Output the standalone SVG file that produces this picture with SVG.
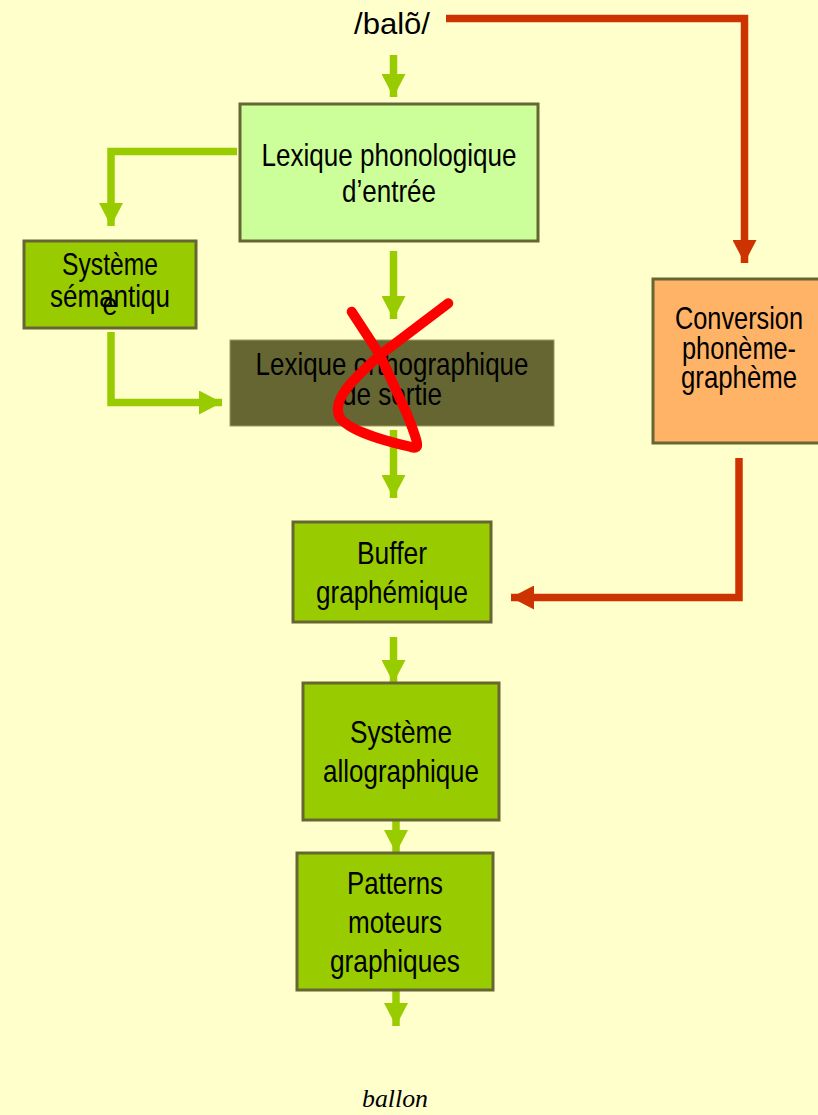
<svg xmlns="http://www.w3.org/2000/svg" width="818" height="1115" viewBox="0 0 818 1115">
<style>
.t{font-family:"Liberation Sans",Arial,sans-serif;font-size:30.5px;fill:#000;text-anchor:middle}
.box{stroke:#666633;stroke-width:3}
.g{fill:none;stroke:#99CC00;stroke-width:7.5}
.r{fill:none;stroke:#CC3300;stroke-width:7.5}
</style>
<defs>
<marker id="ga" markerUnits="userSpaceOnUse" markerWidth="23" markerHeight="24" viewBox="0 0 23 24" refX="23" refY="12" orient="auto"><path d="M0,0 L23,12 L0,24 z" fill="#99CC00"/></marker>
<marker id="ra" markerUnits="userSpaceOnUse" markerWidth="23" markerHeight="24" viewBox="0 0 23 24" refX="23" refY="12" orient="auto"><path d="M0,0 L23,12 L0,24 z" fill="#CC3300"/></marker>
</defs>
<rect width="818" height="1115" fill="#FFFFCC"/>
<g id="connectors">
<path class="g" d="M393.5,55 V97" marker-end="url(#ga)"/>
<path class="g" d="M237,151.5 H111 V226" marker-end="url(#ga)"/>
<path class="g" d="M393.5,251 V319" marker-end="url(#ga)"/>
<path class="g" d="M111,332 V402.5 H222" marker-end="url(#ga)"/>
<path class="g" d="M393.5,430 V498" marker-end="url(#ga)"/>
<path class="g" d="M393.5,637 V683" marker-end="url(#ga)"/>
<path class="g" d="M396,821 V853" marker-end="url(#ga)"/>
<path class="g" d="M396,991 V1026" marker-end="url(#ga)"/>
<path class="r" d="M446,18.5 H744.5 V263" marker-end="url(#ra)"/>
<path class="r" d="M739,458 V597.5 H511" marker-end="url(#ra)"/>
</g>
<g id="input"><text x="392" y="34" font-family="Liberation Sans,Arial,sans-serif" font-size="30" text-anchor="middle" textLength="76" lengthAdjust="spacingAndGlyphs">/balõ/</text></g>
<g id="lexphon">
<rect class="box" x="240" y="104" width="298" height="137" fill="#CCFF99"/>
<text class="t" x="389" y="166" textLength="255" lengthAdjust="spacingAndGlyphs">Lexique phonologique</text>
<text class="t" x="389" y="202" textLength="94" lengthAdjust="spacingAndGlyphs">d’entrée</text>
</g>
<g id="semantique">
<rect class="box" x="24" y="241" width="172" height="87" fill="#99CC00"/>
<text class="t" x="110" y="275" textLength="96" lengthAdjust="spacingAndGlyphs">Système</text>
<text class="t" x="110" y="307" textLength="120" lengthAdjust="spacingAndGlyphs">sémantiqu</text>
<text class="t" x="110" y="315" textLength="15" lengthAdjust="spacingAndGlyphs">e</text>
</g>
<g id="lexortho">
<rect x="230" y="340" width="324" height="86" fill="#666633" stroke="#99995C" stroke-width="1"/>
<text class="t" x="392" y="375" textLength="273" lengthAdjust="spacingAndGlyphs">Lexique orthographique</text>
<text class="t" x="392" y="405" textLength="100" lengthAdjust="spacingAndGlyphs">de sortie</text>
</g>
<g id="cross">
<path d="M351.7,311.7 L380,355 L406.7,413.3 C420,446.7 420,450 410,446.7 C380,440 341,428 338.3,413.3 C335,398 350,382 380,355 L448.3,303.3" fill="none" stroke="#FF0000" stroke-width="10" stroke-linecap="round" stroke-linejoin="round"/>
</g>
<g id="conversion">
<rect class="box" x="653" y="279" width="170" height="164" fill="#FFB366"/>
<text class="t" x="739" y="329" textLength="128" lengthAdjust="spacingAndGlyphs">Conversion</text>
<text class="t" x="739" y="359" textLength="114" lengthAdjust="spacingAndGlyphs">phonème-</text>
<text class="t" x="739" y="388" textLength="116" lengthAdjust="spacingAndGlyphs">graphème</text>
</g>
<g id="buffer">
<rect class="box" x="293" y="522" width="198" height="100" fill="#99CC00"/>
<text class="t" x="392" y="564" textLength="70" lengthAdjust="spacingAndGlyphs">Buffer</text>
<text class="t" x="392" y="603" textLength="152" lengthAdjust="spacingAndGlyphs">graphémique</text>
</g>
<g id="allographique">
<rect class="box" x="303" y="683" width="196" height="137" fill="#99CC00"/>
<text class="t" x="401" y="743" textLength="102" lengthAdjust="spacingAndGlyphs">Système</text>
<text class="t" x="401" y="782" textLength="156" lengthAdjust="spacingAndGlyphs">allographique</text>
</g>
<g id="patterns">
<rect class="box" x="297" y="853" width="196" height="137" fill="#99CC00"/>
<text class="t" x="395" y="894" textLength="96" lengthAdjust="spacingAndGlyphs">Patterns</text>
<text class="t" x="395" y="933" textLength="94" lengthAdjust="spacingAndGlyphs">moteurs</text>
<text class="t" x="395" y="972" textLength="130" lengthAdjust="spacingAndGlyphs">graphiques</text>
</g>
<g id="output"><text x="395" y="1107" font-family="Liberation Serif,serif" font-style="italic" font-size="26" text-anchor="middle" textLength="66" lengthAdjust="spacingAndGlyphs">ballon</text></g>
</svg>
